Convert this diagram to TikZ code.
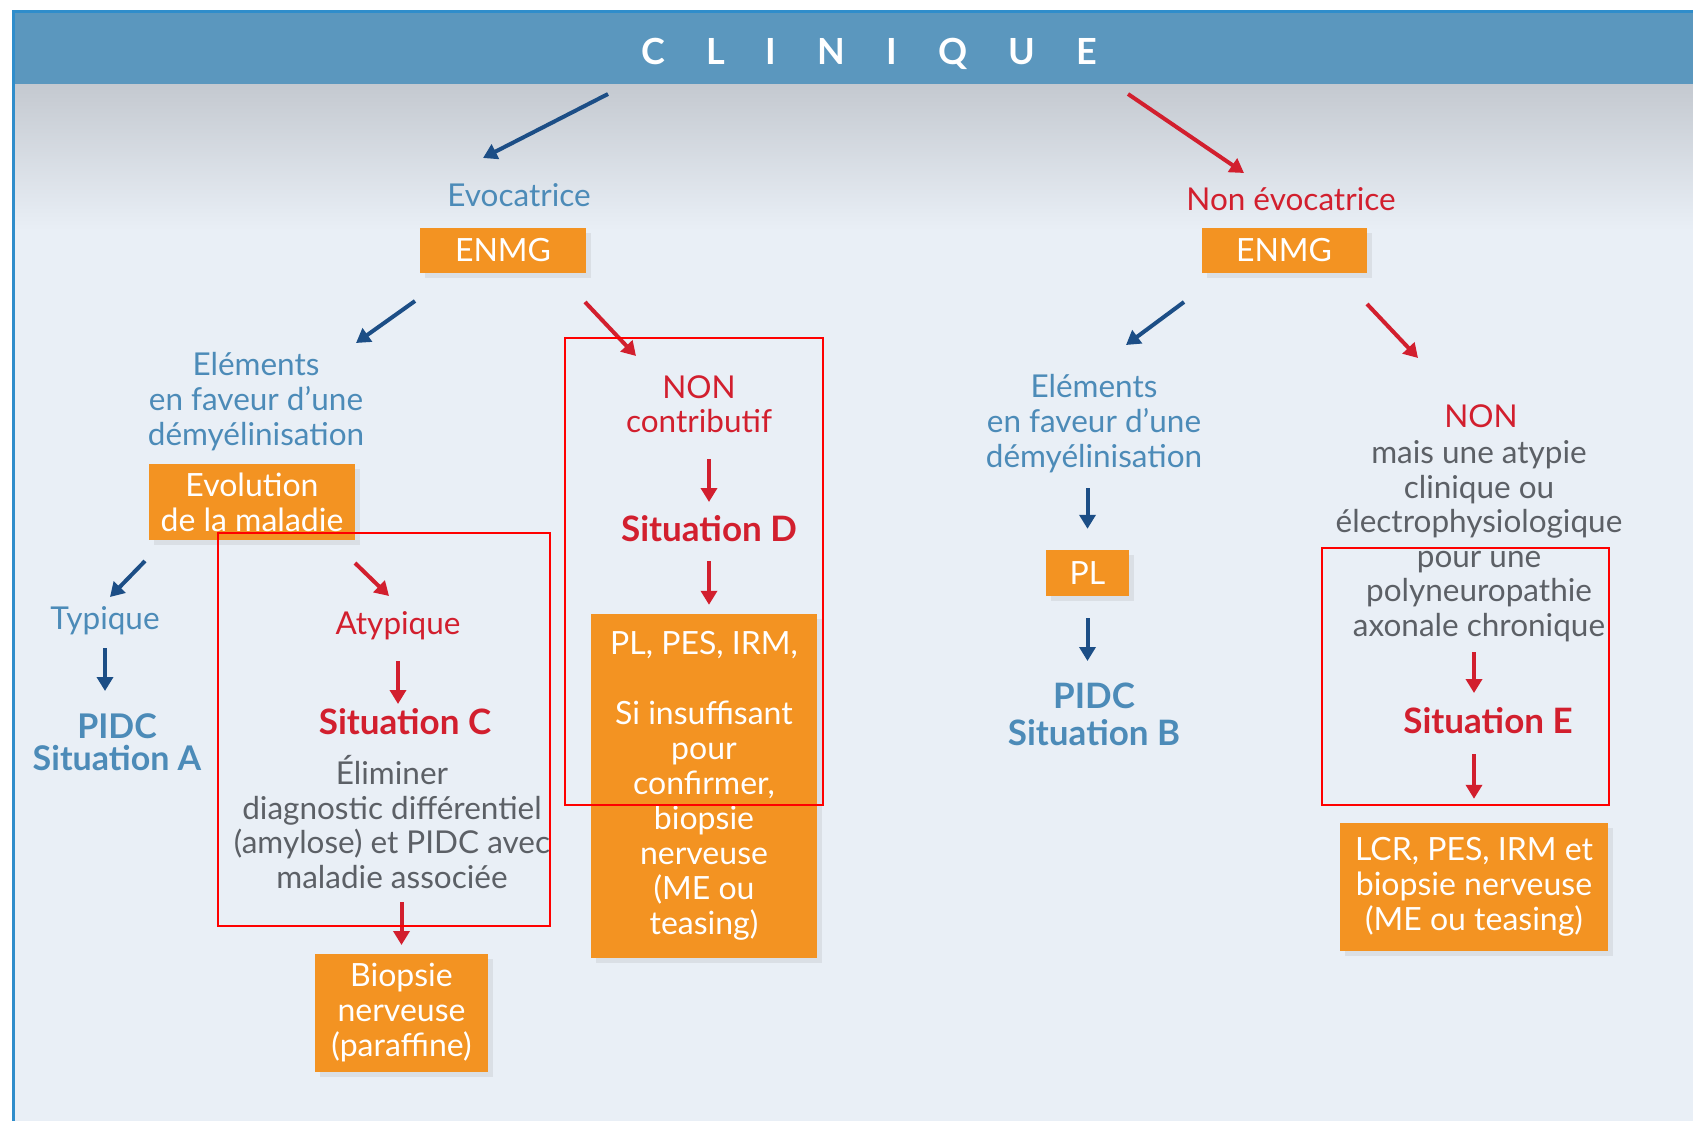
\documentclass[tikz,border=0pt]{standalone}
\usepackage{fontspec}
\setmainfont{Lato}
\usetikzlibrary{arrows.meta,shadows}

\definecolor{bandeau}{HTML}{5B97BE}
\definecolor{filet}{HTML}{2F8DCB}
\definecolor{fond}{HTML}{E9EFF6}
\definecolor{grisfond}{HTML}{C4C9D0}
\definecolor{bleutxt}{HTML}{4C8BB8}
\definecolor{bleufl}{HTML}{1C4E86}
\definecolor{rouge}{HTML}{D21F2E}
\definecolor{orangeboite}{HTML}{F39322}
\definecolor{gristxt}{HTML}{5C6066}

\tikzset{
  boite/.style={fill=orangeboite, text=white, align=center, inner sep=0pt,
    font=\fontsize{32}{35}\selectfont,
    drop shadow={shadow xshift=5pt, shadow yshift=-5pt, opacity=.14}},
  txtbleu/.style={text=bleutxt, align=center, inner sep=0pt, font=\fontsize{31.5}{35}\selectfont},
  txtrouge/.style={text=rouge, align=center, inner sep=0pt, font=\fontsize{31.5}{34}\selectfont},
  txtgris/.style={text=gristxt, align=center, inner sep=0pt, font=\fontsize{31.5}{34.5}\selectfont},
  sitbleu/.style={text=bleutxt, align=center, inner sep=0pt, font=\bfseries\fontsize{34}{32}\selectfont},
  sitrouge/.style={text=rouge, inner sep=0pt, font=\bfseries\fontsize{35}{34}\selectfont},
  flbleu/.style={->, line width=4pt, draw=bleufl},
  flrouge/.style={->, line width=4pt, draw=rouge},
  cadre/.style={draw=red, line width=1.3pt},
}

\begin{document}
\begin{tikzpicture}[x=1pt, y=-1pt, >={Triangle[length=14pt,width=16pt]}]
  \useasboundingbox (0,0) rectangle (1693,1121);
  % fond et bandeau
  \fill[white] (0,0) rectangle (1693,1121);
  \fill[fond] (13,84) rectangle (1693,1121);
  \shade[top color=grisfond, bottom color=fond] (13,84) rectangle (1693,230);
  \fill[bandeau] (13,11) rectangle (1693,84);
  \draw[filet, line width=3pt] (1693,12) -- (13,12) -- (13,1121);
  \node[text=white, inner sep=0pt, font=\bfseries\fontsize{36}{36}\selectfont\addfontfeatures{LetterSpace=114}] (titre) at (869,54) {CLINIQUE};

  % branche evocatrice
  \node[txtbleu] (evoc) at (519,195) {Evocatrice};
  \node[boite, minimum width=166pt, minimum height=45pt] (enmgG) at (503,250) {ENMG};
  \node[txtbleu] (elemG) at (256,402) {Eléments\\en faveur d’une\\démyélinisation};
  \node[boite, minimum width=206pt, minimum height=76pt] (evol) at (252,502) {Evolution\\de la maladie};
  \node[txtbleu] (typ) at (105,621) {Typique};
  \node[sitbleu] (pidcA) at (117,742) {PIDC\\Situation A};
  \node[txtrouge] (atyp) at (398,626) {Atypique};
  \node[sitrouge] (sitC) at (405,722) {Situation C};
  \node[txtgris] (elim) at (392,822) {Éliminer\\diagnostic différentiel\\(amylose) et PIDC avec\\maladie associée};
  \node[boite, minimum width=173pt, minimum height=118pt] (biop) at (401.5,1013) {Biopsie\\nerveuse\\(paraffine)};
  \node[txtrouge] (nonc) at (699,404) {NON\\contributif};
  \node[sitrouge] (sitD) at (709,529) {Situation D};
  \node[boite, minimum width=226pt, minimum height=344pt] (bD) at (704,786) {PL, PES, IRM,\\[35pt]Si insuffisant\\pour\\confirmer,\\biopsie\\nerveuse\\(ME ou\\teasing)};

  % branche non evocatrice
  \node[txtrouge] (nonevoc) at (1291,199) {Non évocatrice};
  \node[boite, minimum width=165pt, minimum height=45pt] (enmgD) at (1284,250) {ENMG};
  \node[txtbleu] (elemD) at (1094,424) {Eléments\\en faveur d’une\\démyélinisation};
  \node[boite, minimum width=83pt, minimum height=46pt] (pl) at (1087.5,573) {PL};
  \node[sitbleu, font=\bfseries\fontsize{35}{37}\selectfont] (pidcB) at (1094,714) {PIDC\\Situation B};
  \node[txtrouge] (nonE) at (1481,416) {NON};
  \node[txtgris] (atypie) at (1479,541) {mais une atypie\\clinique ou\\électrophysiologique\\pour une\\polyneuropathie\\axonale chronique};
  \node[sitrouge] (sitE) at (1488,721) {Situation E};
  \node[boite, minimum width=268pt, minimum height=128pt] (lcr) at (1474,887) {LCR, PES, IRM et\\biopsie nerveuse\\(ME ou teasing)};

  % fleches obliques
  \coordinate (a1) at (608,94);   \coordinate (a2) at (483,158);
  \coordinate (b1) at (1128,94);  \coordinate (b2) at (1244,173);
  \coordinate (c1) at (415,301);  \coordinate (c2) at (356,343);
  \coordinate (d1) at (585,302);  \coordinate (d2) at (636,356);
  \coordinate (e1) at (145,561);  \coordinate (e2) at (110,597);
  \coordinate (f1) at (355,563);  \coordinate (f2) at (389,596);
  \coordinate (g1) at (1184,302); \coordinate (g2) at (1126,345);
  \coordinate (h1) at (1367,304); \coordinate (h2) at (1418,358);
  \foreach \p/\q in {a1/a2, c1/c2, e1/e2, g1/g2} \draw[flbleu] (\p) -- (\q);
  \foreach \p/\q in {b1/b2, d1/d2, f1/f2, h1/h2} \draw[flrouge] (\p) -- (\q);

  % fleches verticales
  \draw[flbleu, shorten <=27pt, shorten >=51pt] (typ.center) -- (typ |- pidcA);
  \draw[flrouge, shorten <=35pt, shorten >=18pt] (atyp.center) -- (atyp |- sitC);
  \draw[flrouge, shorten <=80pt, shorten >=68pt] (biop |- elim) -- (biop.center);
  \draw[flrouge, shorten <=55pt, shorten >=27pt] (sitD |- nonc) -- (sitD.center);
  \draw[flrouge, shorten <=32pt, shorten >=9pt] (sitD.center) -- (sitD |- bD.north);
  \draw[flbleu, shorten <=64pt, shorten >=21pt] (pl |- elemD) -- (pl.north);
  \draw[flbleu, shorten <=22pt, shorten >=53pt] (pl.south) -- (pl |- pidcB);
  \draw[flrouge, shorten <=111pt, shorten >=28pt] (lcr |- atypie) -- (lcr |- sitE);
  \draw[flrouge, shorten <=33pt, shorten >=24pt] (lcr |- sitE) -- (lcr.north);

  % cadres rouges
  \draw[cadre] (218,533) rectangle (550,926);
  \draw[cadre] (565,338) rectangle (823,805);
  \draw[cadre] (1322,548) rectangle (1609,805);
\end{tikzpicture}
\end{document}
